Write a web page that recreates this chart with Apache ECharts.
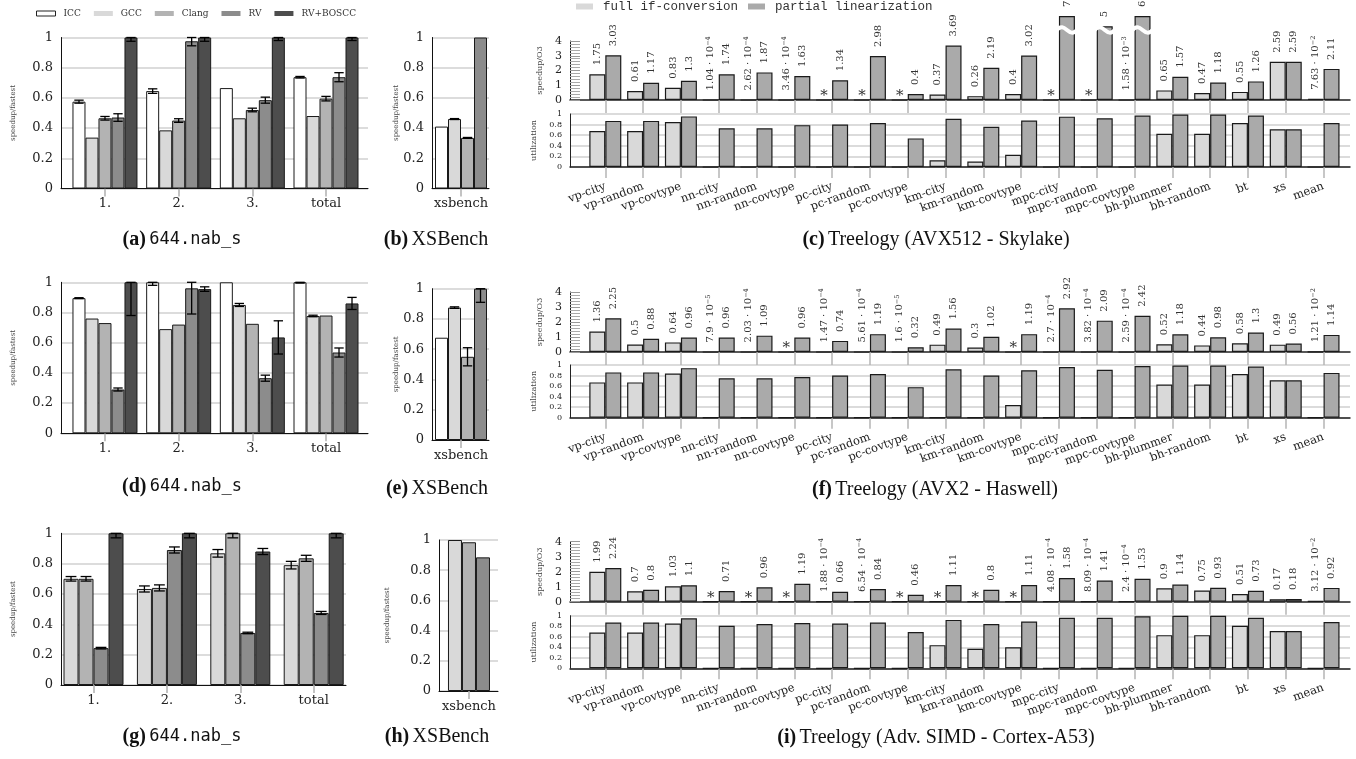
<!DOCTYPE html>
<html>
<head>
<meta charset="utf-8">
<script src="https://cdn.jsdelivr.net/npm/echarts@6/dist/echarts.min.js"></script>
<style>
  html, body { margin: 0; padding: 0; background: #fff; }
  #main { width: 1356px; height: 759px; }
</style>
</head>
<body>
<div id="main"></div>
<script>
// ---- data ----
const nabGroups = ['1.', '2.', '3.', 'total'];
const xsGroups = ['xsbench'];
const nabNames = ['ICC', 'GCC', 'Clang', 'RV', 'RV+BOSCC'];
const treeNames = ['full if-conversion', 'partial linearization'];
const treeCats = ['vp-city', 'vp-random', 'vp-covtype', 'nn-city', 'nn-random', 'nn-covtype',
  'pc-city', 'pc-random', 'pc-covtype', 'km-city', 'km-random', 'km-covtype',
  'mpc-city', 'mpc-random', 'mpc-covtype', 'bh-plummer', 'bh-random', 'bt', 'xs', 'mean'];

// 644.nab_s, rows = ICC, GCC, Clang, RV, RV+BOSCC
const nabSkylake = [
  [0.575, 0.645, 0.665, 0.737],
  [0.337, 0.385, 0.465, 0.48],
  [0.465, 0.45, 0.52, 0.595],
  [0.47, 0.975, 0.585, 0.737],
  [1, 1, 1, 1]
];
const nabSkylakeErr = [
  [0.01, 0.015, 0, 0.005],
  [0, 0, 0, 0],
  [0.012, 0.012, 0.012, 0.015],
  [0.025, 0.03, 0.02, 0.03],
  [0.025, 0.025, 0.02, 0.02]
];
const nabHaswell = [
  [0.895, 1, 1, 1],
  [0.76, 0.69, 0.85, 0.777],
  [0.73, 0.72, 0.725, 0.78],
  [0.29, 0.96, 0.365, 0.535],
  [1, 0.955, 0.635, 0.86]
];
const nabHaswellErr = [
  [0.003, 0.02, 0, 0.005],
  [0, 0, 0.01, 0.005],
  [0, 0, 0, 0],
  [0.01, 0.17, 0.02, 0.03],
  [0.22, 0.015, 0.11, 0.04]
];
// Cortex-A53: rows = GCC, Clang, RV, RV+BOSCC
const nabA53 = [
  [0.7, 0.633, 0.868, 0.79],
  [0.7, 0.64, 1, 0.835],
  [0.243, 0.89, 0.343, 0.475],
  [1, 1, 0.88, 1]
];
const nabA53Err = [
  [0.015, 0.02, 0.025, 0.025],
  [0.015, 0.02, 0.03, 0.02],
  [0.005, 0.02, 0.005, 0.01],
  [0.03, 0.03, 0.02, 0.03]
];

// XSBench: ICC, GCC, Clang, RV (A53: GCC, Clang, RV)
const xsSkylake = [0.41, 0.46, 0.335, 1];
const xsSkylakeErr = [0, 0.003, 0.003, 0];
const xsHaswell = [0.676, 0.875, 0.55, 1];
const xsHaswellErr = [0, 0.005, 0.06, 0.09];
const xsA53 = [1, 0.985, 0.885];
const xsA53Err = [0, 0, 0];

// Treelogy speedup/O3 (null = *), utilization
const skyFull = [1.75, 0.61, 0.83, 1.04e-4, 2.62e-4, 3.46e-4, null, null, null, 0.37, 0.26, 0.4, null, null, 1.58e-3, 0.65, 0.47, 0.55, 2.59, 7.63e-2];
const skyPartial = [3.03, 1.17, 1.3, 1.74, 1.87, 1.63, 1.34, 2.98, 0.4, 3.69, 2.19, 3.02, 7, 5, 6, 1.57, 1.18, 1.26, 2.59, 2.11];
const skyUtilFull = [0.68, 0.68, 0.85, 0, 0, 0, 0, 0, 0, 0.125, 0.105, 0.23, 0, 0, 0, 0.625, 0.625, 0.83, 0.71, 0];
const skyUtilPartial = [0.87, 0.87, 0.955, 0.73, 0.73, 0.79, 0.8, 0.83, 0.54, 0.91, 0.76, 0.875, 0.95, 0.92, 0.97, 0.99, 0.99, 0.97, 0.71, 0.83];

const hasFull = [1.36, 0.5, 0.64, 7.9e-5, 2.03e-4, null, 1.47e-4, 5.61e-4, 1.6e-5, 0.49, 0.3, null, 2.7e-4, 3.82e-4, 2.59e-4, 0.52, 0.44, 0.58, 0.49, 1.21e-2];
const hasPartial = [2.25, 0.88, 0.96, 0.96, 1.09, 0.96, 0.74, 1.19, 0.32, 1.56, 1.02, 1.19, 2.92, 2.09, 2.42, 1.18, 0.98, 1.3, 0.56, 1.14];
const hasUtilFull = [0.67, 0.67, 0.84, 0, 0, 0, 0, 0, 0, 0, 0, 0.24, 0, 0, 0, 0.63, 0.63, 0.83, 0.71, 0];
const hasUtilPartial = [0.86, 0.86, 0.94, 0.75, 0.75, 0.77, 0.8, 0.83, 0.58, 0.92, 0.8, 0.9, 0.96, 0.91, 0.98, 0.99, 0.99, 0.97, 0.71, 0.85];

const a53Full = [1.99, 0.7, 1.03, null, null, null, 1.88e-4, 6.54e-4, null, null, null, null, 4.08e-4, 8.09e-4, 2.4e-4, 0.9, 0.75, 0.51, 0.17, 3.12e-2];
const a53Partial = [2.24, 0.8, 1.1, 0.71, 0.96, 1.19, 0.66, 0.84, 0.46, 1.11, 0.8, 1.11, 1.58, 1.41, 1.53, 1.14, 0.93, 0.73, 0.18, 0.92];
const a53UtilFull = [0.68, 0.68, 0.85, 0, 0, 0, 0, 0, 0, 0.44, 0.37, 0.4, 0, 0, 0, 0.63, 0.63, 0.81, 0.71, 0];
const a53UtilPartial = [0.87, 0.87, 0.95, 0.81, 0.84, 0.86, 0.85, 0.87, 0.69, 0.92, 0.84, 0.89, 0.96, 0.96, 0.99, 1, 1, 0.96, 0.71, 0.88];

// ---- styling ----
const SERIF = 'DejaVu Serif';
const NAB_COLORS = { 'ICC': '#ffffff', 'GCC': '#d9d9d9', 'Clang': '#b3b3b3', 'RV': '#8c8c8c', 'RV+BOSCC': '#4d4d4d' };
const TREE_COLORS = ['#d9d9d9', '#aaaaaa'];
const TREE_BW = 16;
const TREE_MAX = 4;
const TREE_CAP = 5.7;    // bars above the axis are cut here
const TREE_BREAK = 4.75; // where the wavy break goes

const grids = [], xAxes = [], yAxes = [], series = [];

function fmtVal(v) {
  const trim = s => s.replace(/\.?0+$/, '');
  if (v >= 0.1) return trim(v.toFixed(2));
  const e = Math.floor(Math.log10(v) + 1e-9);
  const m = v / Math.pow(10, e);
  return trim(m.toFixed(2)) + ' · 10{sup|−' + (-e) + '}';
}

function nabPanel(p) {
  const gi = grids.length;
  const ticks = p.cats.map((c, i) => i);
  grids.push({ left: p.left, top: p.top, width: p.width, height: p.height });
  xAxes.push({
    type: 'value', gridIndex: gi, min: p.min, max: p.max,
    axisLine: { onZero: false, lineStyle: { color: '#111', width: 1 } },
    axisTick: { customValues: ticks, length: 8, lineStyle: { color: '#b0b0b0', width: 1.5 } },
    axisLabel: { customValues: ticks, formatter: v => p.cats[v], fontFamily: SERIF, fontSize: 13, color: '#222', margin: 9 },
    splitLine: { show: false }
  });
  yAxes.push({
    type: 'value', gridIndex: gi, min: 0, max: 1, interval: 0.2,
    name: 'speedup/fastest', nameLocation: 'middle', nameGap: p.nameGap,
    nameTextStyle: { fontFamily: SERIF, fontSize: 7, color: '#444' },
    axisLine: { show: true, onZero: false, lineStyle: { color: '#111', width: 1 } },
    axisTick: { show: false },
    axisLabel: { fontFamily: SERIF, fontSize: 13, color: '#222', margin: 8 },
    splitLine: { lineStyle: { color: '#d0d0d0', width: 1.5 } }
  });
  const n = p.names.length;
  p.names.forEach((name, k) => {
    series.push({
      type: 'bar', name: name, xAxisIndex: gi, yAxisIndex: gi,
      barWidth: p.bw, barGap: '0%',
      itemStyle: { color: NAB_COLORS[name], borderColor: '#1a1a1a', borderWidth: 1 },
      data: p.vals[k].map((v, i) => [i, v])
    });
    const errData = p.vals[k].map((v, i) => [i, v, p.errs[k][i]]).filter(d => d[2] > 0);
    if (!errData.length) return;
    series.push({
      type: 'custom', xAxisIndex: gi, yAxisIndex: gi, silent: true, z: 5,
      data: errData,
      renderItem: (params, api) => {
        const x = api.value(0), v = api.value(1), e = api.value(2);
        const off = (k - (n - 1) / 2) * p.bw;
        const lo = api.coord([x, v - e]);
        const hi = api.coord([x, Math.min(v + e, 1)]);
        const cx = lo[0] + off, cw = p.bw * 0.36;
        const st = { stroke: '#000', lineWidth: 1.3 };
        return {
          type: 'group', children: [
            { type: 'line', shape: { x1: cx, y1: lo[1], x2: cx, y2: hi[1] }, style: st },
            { type: 'line', shape: { x1: cx - cw, y1: lo[1], x2: cx + cw, y2: lo[1] }, style: st },
            { type: 'line', shape: { x1: cx - cw, y1: hi[1], x2: cx + cw, y2: hi[1] }, style: st }
          ]
        };
      }
    });
  });
}

function valueLabel(arr) {
  return {
    show: true, position: 'top', distance: 9, rotate: 90, align: 'left', verticalAlign: 'middle',
    fontFamily: SERIF, fontSize: 10, color: '#333', lineHeight: 12,
    formatter: prm => fmtVal(arr[prm.dataIndex]),
    rich: { sup: { fontFamily: SERIF, fontSize: 6.5, color: '#333', verticalAlign: 'top', lineHeight: 7 } }
  };
}

const STAR = { show: true, formatter: '*', rotate: 0, align: 'center', verticalAlign: 'bottom', fontSize: 15, distance: -3, fontFamily: SERIF, color: '#333' };

function treePanel(p) {
  const ticks = treeCats.map((c, i) => i);
  // speedup
  const g1 = grids.length;
  grids.push({ left: p.left, top: p.top1, width: p.width, height: p.h1 });
  xAxes.push({
    type: 'value', gridIndex: g1, min: p.min, max: p.max,
    axisLine: { onZero: false, lineStyle: { color: '#222', width: 1.5 } },
    axisTick: { customValues: ticks, length: 13, lineStyle: { color: '#b5b5b5', width: 1.5 } },
    axisLabel: { show: false }, splitLine: { show: false }
  });
  yAxes.push({
    type: 'value', gridIndex: g1, min: 0, max: TREE_MAX, interval: 1,
    name: 'speedup/O3', nameLocation: 'middle', nameGap: 20,
    nameTextStyle: { fontFamily: SERIF, fontSize: 8, color: '#444' },
    axisLine: { show: true, onZero: false, lineStyle: { color: '#222', width: 1 } },
    axisTick: { show: true, inside: true, length: 10, lineStyle: { color: '#999' } },
    minorTick: { show: true, splitNumber: 5, length: 10, lineStyle: { color: '#aaa' } },
    axisLabel: { fontFamily: SERIF, fontSize: 11, color: '#222', margin: 8 },
    splitLine: { show: false }
  });
  series.push({
    type: 'bar', name: treeNames[0], xAxisIndex: g1, yAxisIndex: g1,
    barWidth: TREE_BW, barGap: '0%', clip: false,
    itemStyle: { color: TREE_COLORS[0], borderColor: '#1a1a1a', borderWidth: 1.2 },
    label: valueLabel(p.full),
    data: p.full.map((v, i) => v == null ? { value: [i, 0], label: STAR } : [i, v])
  });
  series.push({
    type: 'bar', name: treeNames[1], xAxisIndex: g1, yAxisIndex: g1,
    barWidth: TREE_BW, barGap: '0%', clip: false,
    itemStyle: { color: TREE_COLORS[1], borderColor: '#1a1a1a', borderWidth: 1.2 },
    label: valueLabel(p.partial),
    data: p.partial.map((v, i) => [i, Math.min(v, TREE_CAP)])
  });
  const cut = p.partial.map((v, i) => [i, v]).filter(d => d[1] > TREE_MAX);
  if (cut.length) {
    series.push({
      type: 'custom', xAxisIndex: g1, yAxisIndex: g1, silent: true, z: 10, clip: false,
      data: cut,
      renderItem: (params, api) => {
        const c = api.coord([api.value(0), TREE_BREAK]);
        const x0 = c[0] - 3, x1 = c[0] + TREE_BW + 3, y = c[1], w = x1 - x0;
        return {
          type: 'bezierCurve',
          shape: { x1: x0, y1: y + 1, x2: x1, y2: y - 1, cpx1: x0 + w * 0.45, cpy1: y - 11, cpx2: x0 + w * 0.55, cpy2: y + 11 },
          style: { stroke: '#fff', lineWidth: 4, fill: null }
        };
      }
    });
  }
  // utilization
  const g2 = grids.length;
  grids.push({ left: p.left, top: p.top2, width: p.width, height: p.h2 });
  xAxes.push({
    type: 'value', gridIndex: g2, min: p.min, max: p.max,
    axisLine: { onZero: false, lineStyle: { color: '#222', width: 1.5 } },
    axisTick: { customValues: ticks, length: 11, lineStyle: { color: '#b5b5b5', width: 1.5 } },
    axisLabel: { customValues: ticks, formatter: v => treeCats[v], rotate: 20, fontFamily: SERIF, fontSize: 11.5, color: '#222', margin: 19 },
    splitLine: { show: false }
  });
  yAxes.push({
    type: 'value', gridIndex: g2, min: 0, max: 1, interval: 0.2,
    name: 'utilization', nameLocation: 'middle', nameGap: 20,
    nameTextStyle: { fontFamily: SERIF, fontSize: 8, color: '#444' },
    axisLine: { show: true, onZero: false, lineStyle: { color: '#222', width: 1 } },
    axisTick: { show: false },
    axisLabel: { fontFamily: SERIF, fontSize: 8, color: '#222', margin: 8 },
    splitLine: { lineStyle: { color: '#cfcfcf', width: 1.5 } }
  });
  [p.uFull, p.uPartial].forEach((arr, k) => {
    series.push({
      type: 'bar', name: treeNames[k], xAxisIndex: g2, yAxisIndex: g2,
      barWidth: TREE_BW, barGap: '0%',
      itemStyle: { color: TREE_COLORS[k], borderColor: '#1a1a1a', borderWidth: 1.2 },
      data: arr.map((v, i) => [i, v])
    });
  });
}

// ---- panels ----
const NAB_X = { left: 61, width: 307, min: -0.597, max: 3.57 };
nabPanel({ ...NAB_X, top: 37.5, height: 151, cats: nabGroups, names: nabNames, vals: nabSkylake, errs: nabSkylakeErr, bw: 13, nameGap: 44 });
nabPanel({ left: 432, width: 57, min: -0.509, max: 0.491, top: 37.5, height: 151, cats: xsGroups, names: nabNames.slice(0, 4),
  vals: xsSkylake.map(v => [v]), errs: xsSkylakeErr.map(v => [v]), bw: 13, nameGap: 24 });
treePanel({ left: 570, width: 780, min: -0.934, max: 19.7, top1: 41, h1: 59, top2: 114, h2: 53,
  full: skyFull, partial: skyPartial, uFull: skyUtilFull, uPartial: skyUtilPartial });

nabPanel({ ...NAB_X, top: 282.3, height: 151, cats: nabGroups, names: nabNames, vals: nabHaswell, errs: nabHaswellErr, bw: 13, nameGap: 44 });
nabPanel({ left: 432, width: 57, min: -0.509, max: 0.491, top: 288.7, height: 151.3, cats: xsGroups, names: nabNames.slice(0, 4),
  vals: xsHaswell.map(v => [v]), errs: xsHaswellErr.map(v => [v]), bw: 13, nameGap: 30 });
treePanel({ left: 570, width: 780, min: -0.934, max: 19.7, top1: 292, h1: 60, top2: 365, h2: 52.7,
  full: hasFull, partial: hasPartial, uFull: hasUtilFull, uPartial: hasUtilPartial });

nabPanel({ left: 61, width: 285, min: -0.443, max: 3.44, top: 533.3, height: 151.7, cats: nabGroups, names: nabNames.slice(1),
  vals: nabA53, errs: nabA53Err, bw: 15, nameGap: 44 });
nabPanel({ left: 439, width: 59, min: -0.508, max: 0.492, top: 540, height: 151, cats: xsGroups, names: nabNames.slice(1, 4),
  vals: xsA53.map(v => [v]), errs: xsA53Err.map(v => [v]), bw: 14, nameGap: 48 });
treePanel({ left: 570, width: 780, min: -0.934, max: 19.7, top1: 541.7, h1: 60, top2: 615.7, h2: 52.6,
  full: a53Full, partial: a53Partial, uFull: a53UtilFull, uPartial: a53UtilPartial });

// ---- captions ----
const CAP_RICH = {
  b: { fontFamily: 'Liberation Serif', fontWeight: 'bold', fontSize: 20, fill: '#111' },
  r: { fontFamily: 'Liberation Serif', fontSize: 20, fill: '#111' },
  m: { fontFamily: 'DejaVu Sans Mono', fontSize: 17, fill: '#111' }
};
function caption(x, y, tag, text, style) {
  return { type: 'text', x: x, y: y, silent: true,
    style: { text: '{b|' + tag + '} {' + style + '|' + text + '}', rich: CAP_RICH, align: 'center', verticalAlign: 'middle' } };
}

const chart = echarts.init(document.getElementById('main'));
chart.setOption({
  animation: false,
  backgroundColor: '#fff',
  legend: [
    {
      left: 36, top: 9, padding: 0, icon: 'rect', itemWidth: 19, itemHeight: 5, itemGap: 13, selectedMode: false,
      textStyle: { fontFamily: SERIF, fontSize: 9, color: '#333', padding: [0, 0, 0, 3] },
      data: nabNames.map(nm => ({ name: nm, itemStyle: nm === 'ICC'
        ? { color: '#fff', borderColor: '#222', borderWidth: 1 }
        : { color: NAB_COLORS[nm], borderWidth: 0 } }))
    },
    {
      left: 576, top: 0, padding: 0, icon: 'rect', itemWidth: 17, itemHeight: 6, itemGap: 10, selectedMode: false,
      textStyle: { fontFamily: 'Liberation Mono', fontSize: 12.5, color: '#333', padding: [0, 0, 0, 5] },
      data: treeNames.map((nm, k) => ({ name: nm, itemStyle: { color: TREE_COLORS[k], borderWidth: 0 } }))
    }
  ],
  grid: grids,
  xAxis: xAxes,
  yAxis: yAxes,
  series: series,
  graphic: [
    caption(182, 240, '(a)', '644.nab_s', 'm'),
    caption(436, 240, '(b)', 'XSBench', 'r'),
    caption(936, 240, '(c)', 'Treelogy (AVX512 - Skylake)', 'r'),
    caption(182, 487, '(d)', '644.nab_s', 'm'),
    caption(437, 489, '(e)', 'XSBench', 'r'),
    caption(935, 490, '(f)', 'Treelogy (AVX2 - Haswell)', 'r'),
    caption(182, 737, '(g)', '644.nab_s', 'm'),
    caption(437, 737, '(h)', 'XSBench', 'r'),
    caption(936, 738, '(i)', 'Treelogy (Adv. SIMD - Cortex-A53)', 'r')
  ]
});
</script>
</body>
</html>
